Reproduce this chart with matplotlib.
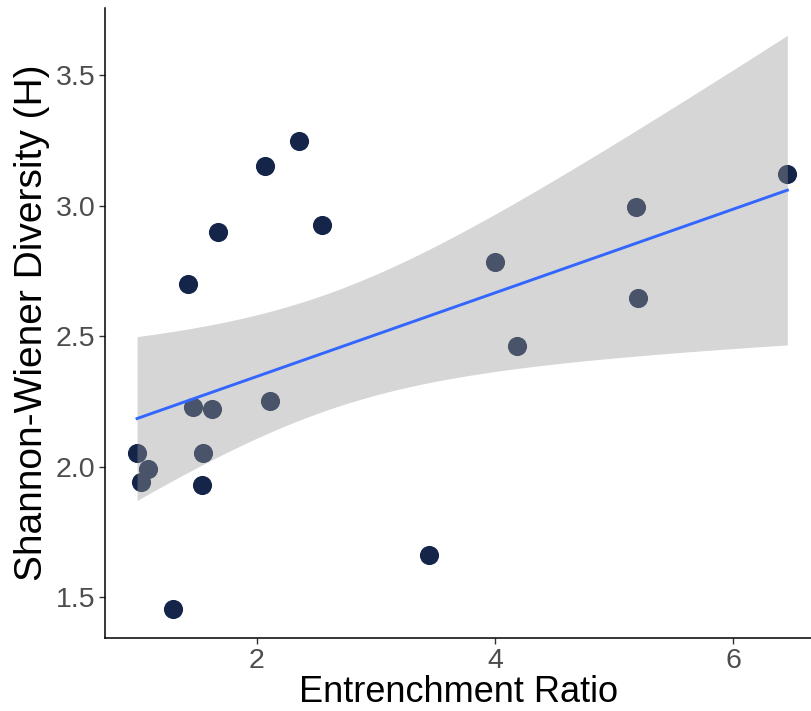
import numpy as np
import matplotlib
matplotlib.use('Agg')
from matplotlib import pyplot as plt

plt.rcParams['font.family'] = ['Liberation Sans', 'DejaVu Sans']

# Entrenchment ratio vs Shannon-Wiener diversity
entrenchment = [0.995, 1.03, 1.09, 1.295, 1.42, 1.465, 1.55, 1.54, 1.625, 1.675,
                2.07, 2.11, 2.355, 2.55, 3.45, 4.00, 4.185, 5.185, 5.20, 6.455]
diversity = [2.05, 1.94, 1.99, 1.454, 2.70, 2.23, 2.05, 1.93, 2.22, 2.90,
             3.15, 2.25, 3.247, 2.925, 1.66, 2.784, 2.46, 2.995, 2.646, 3.12]
x_ticks = [2, 4, 6]
y_ticks = [1.5, 2.0, 2.5, 3.0, 3.5]

x = np.array(entrenchment)
y = np.array(diversity)

# linear fit with 95% confidence band (like geom_smooth(method = "lm"))
n = len(x)
slope, intercept = np.polyfit(x, y, 1)
resid = y - (slope * x + intercept)
s = np.sqrt(np.sum(resid ** 2) / (n - 2))
t_crit = 2.1009  # t(0.975, df = 18)
xs = np.linspace(x.min(), x.max(), 200)
fit = slope * xs + intercept
se = s * np.sqrt(1 / n + (xs - x.mean()) ** 2 / np.sum((x - x.mean()) ** 2))

fig = plt.figure(figsize=(8.12, 7.11), dpi=100)
ax = fig.add_axes([105 / 812, 73 / 711, 707 / 812, 630 / 711])

ax.scatter(x, y, s=190, color='#15254a', linewidths=0, zorder=2)
ax.fill_between(xs, fit - t_crit * se, fit + t_crit * se, color='#999999',
                alpha=0.4, linewidth=0, zorder=3)
ax.plot(xs, fit, color='#3366FF', lw=2.1, zorder=4)

ax.set_xlim(0.726, 6.662)
ax.set_ylim(1.343, 3.757)
ax.set_xticks(x_ticks)
ax.set_xticklabels([str(v) for v in x_ticks])
ax.set_yticks(y_ticks)
ax.set_yticklabels([f'{v:.1f}' for v in y_ticks])

for side in ['top', 'right']:
    ax.spines[side].set_visible(False)
for side in ['left', 'bottom']:
    ax.spines[side].set_linewidth(1.1)
    ax.spines[side].set_color('black')

ax.tick_params(axis='both', length=4, width=1.0, color='#333333',
               labelsize=20.5, labelcolor='#4d4d4d', pad=3)
ax.set_xlabel('Entrenchment Ratio', fontsize=26, labelpad=1)
ax.set_ylabel('Shannon-Wiener Diversity (H)', fontsize=28, labelpad=4)

fig.savefig('out.png', dpi=100)
